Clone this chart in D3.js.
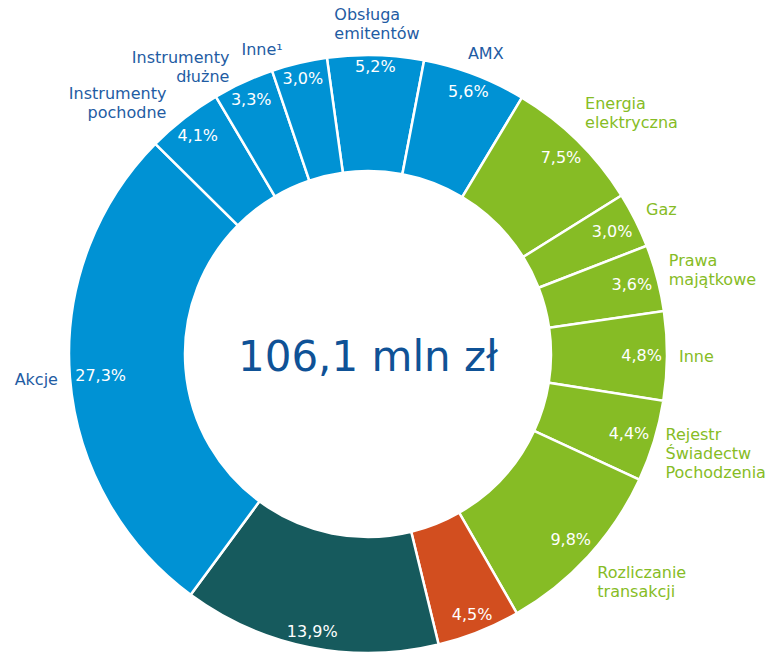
<!DOCTYPE html>
<html>
<head>
<meta charset="utf-8">
<script src="https://cdn.jsdelivr.net/npm/d3@7"></script>
<style>
body{margin:0;background:#fff}
text{font-family:Verdana,'DejaVu Sans',sans-serif}
</style>
</head>
<body>
<svg id="chart" width="773" height="653"></svg>
<script>
// revenue structure, share of total (%)
var categories = ['Obsługa\nemitentów','AMX','Energia\nelektryczna','Gaz','Prawa\nmajątkowe','Inne',
	'Rejestr\nŚwiadectw\nPochodzenia','Rozliczanie\ntransakcji','','','Akcje',
	'Instrumenty\npochodne','Instrumenty\ndłużne','Inne¹']
var shares = [5.2,5.6,7.5,3.0,3.6,4.8,4.4,9.8,4.5,13.9,27.3,4.1,3.3,3.0]
var groups = ['gpw','gpw','tge','tge','tge','tge','tge','tge','other','bondspot','gpw','gpw','gpw','gpw']
var totalValue = 106.1
var totalUnit = 'mln zł'

var svg = d3.select('#chart')
var cx = 368, cy = 354, R = 299, r0 = 183
var startAngle = -7.9*Math.PI/180

var pl = d3.formatLocale({decimal:',',thousands:' ',grouping:[3],currency:['','']})
var fmt = pl.format('.1f')

var fill = d3.scaleOrdinal().domain(['gpw','tge','other','bondspot'])
	.range(['#0092d4','#86bc25','#d24e1f','#165a5d'])
var ink = d3.scaleOrdinal().domain(['gpw','tge']).range(['#1f5ca3','#86bc25'])

var rows = shares.map((v,i)=>({v:v, name:categories[i], grp:groups[i]}))
var pie = d3.pie().sort(null).value(d=>d.v)
	.startAngle(startAngle).endAngle(startAngle+2*Math.PI)
var arc = d3.arc().innerRadius(r0).outerRadius(R)
var arcs = pie(rows)

var ring = svg.append('g').attr('transform',`translate(${cx},${cy})`)
ring.selectAll('path').data(arcs).enter().append('path')
	.attr('d',arc)
	.attr('fill',d=>fill(d.data.grp))
	.attr('stroke','#fff').attr('stroke-width',2.5)

// percentages, inside near the outer edge
var pct = svg.append('g')
arcs.forEach(d=>{
	var a = (d.startAngle+d.endAngle)/2
	var s = Math.sin(a), c = -Math.cos(a)
	var t = pct.append('text').text(fmt(d.data.v)+'%')
		.attr('text-anchor','middle').attr('dy','0.35em')
		.attr('fill','#fff').style('font-size','16px')
	var w = t.node().getComputedTextLength()
	var rr = R - 5 - (w/2*Math.abs(s) + 6*Math.abs(c))
	t.attr('x',cx+rr*s).attr('y',cy+rr*c)
})

// category labels, outside end
var cats = svg.append('g')
var gap = 12
var labels = []
arcs.forEach(d=>{
	if (!d.data.name) return
	var a = (d.startAngle+d.endAngle)/2
	var right = Math.sin(a)>=0
	var t = cats.append('text')
		.attr('fill',ink(d.data.grp)).style('font-size','16px')
		.attr('text-anchor',right?'start':'end')
	d.data.name.split('\n').forEach((l,j)=>{
		t.append('tspan').attr('x',0).attr('dy',j?19:0).text(l)
	})
	labels.push({el:t, a:a, bb:t.node().getBBox(), right:right})
})

function place(lb){
	var s = Math.sin(lb.a), c = -Math.cos(lb.a)
	var m = Math.max(Math.abs(s),Math.abs(c))
	var w = lb.bb.width, h = lb.bb.height
	var mx = cx + (R+gap)*s + w/2*s/m
	var my = cy + (R+gap)*c + h/2*c/m
	lb.box = {x0:mx-w/2, x1:mx+w/2, y0:my-h/2, y1:my+h/2}
	lb.tx = mx - (lb.bb.x+w/2)
	lb.ty = my - (lb.bb.y+h/2)
}
function hit(p,q,px,py){
	return !(p.x1+px<=q.x0 || q.x1+px<=p.x0 || p.y1+py<=q.y0 || q.y1+py<=p.y0)
}

labels.forEach(place)
var rightSide = labels.filter(x=>x.right).sort((p,q)=>p.a-q.a)
var leftSide = labels.filter(x=>!x.right).sort((p,q)=>q.a-p.a)
var step = 0.25*Math.PI/180
var padTop = 52, padX = 12, padY = -3
rightSide.forEach((lb,i)=>{
	if (!i) return
	var px = i==1?padTop:padX
	while (hit(lb.box,rightSide[i-1].box,px,padY)) { lb.a += step; place(lb) }
})
leftSide.forEach((lb,i)=>{
	var prev = i ? leftSide[i-1] : rightSide[0]
	var px = i==0?padTop:padX
	while (hit(lb.box,prev.box,px,padY)) { lb.a -= step; place(lb) }
})
labels.forEach(lb=>lb.el.attr('transform',`translate(${lb.tx},${lb.ty})`))

svg.append('text')
	.attr('x',cx).attr('y',cy).attr('dy','0.4em')
	.attr('text-anchor','middle')
	.attr('fill','#0f5296').style('font-size','42px')
	.text(pl.format('.1f')(totalValue)+' '+totalUnit)
</script>
</body>
</html>
